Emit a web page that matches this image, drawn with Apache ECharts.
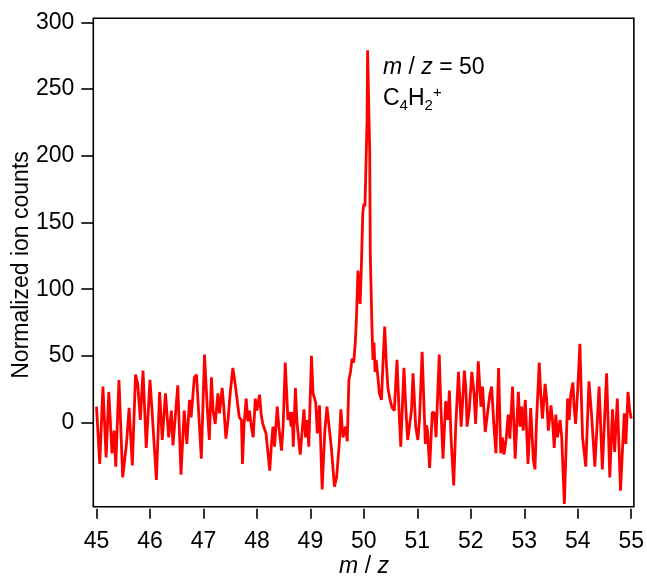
<!DOCTYPE html>
<html>
<head>
<meta charset="utf-8">
<script src="https://cdn.jsdelivr.net/npm/echarts@6/dist/echarts.min.js"></script>
<style>
html,body{margin:0;padding:0;background:#fff;}
#chart{width:647px;height:578px;}
</style>
</head>
<body>
<div id="chart"></div>
<script>
// m/z positions
const mz = [
45.00,45.06,45.12,45.18,45.23,45.29,45.33,45.36,45.42,45.49,
45.56,45.61,45.67,45.73,45.77,45.82,45.87,45.93,46.00,46.04,
46.12,46.18,46.23,46.29,46.35,46.40,46.43,46.52,46.58,46.64,
46.69,46.74,46.77,46.83,46.87,46.96,
47.02,47.07,47.11,47.15,47.18,47.22,47.27,47.30,47.35,47.38,
47.42,47.46,47.50,47.55,47.58,47.63,47.67,47.71,47.73,47.76,
47.80,47.83,47.86,47.90,47.93,47.97,48.00,48.05,48.08,48.11,
48.14,48.17,48.24,
48.27,48.30,48.33,48.38,48.41,48.46,48.49,48.53,48.58,48.61,
48.64,48.66,48.68,48.72,48.75,48.81,48.88,48.91,48.94,48.97,
49.02,49.05,49.10,49.13,49.17,49.22,49.27,49.31,49.39,49.45,
49.49,49.54,49.57,49.61,49.66,49.69,49.72,49.75,49.78,49.81,
49.84,49.86,49.89,49.91,49.93,49.95,49.98,50.00,50.02,50.03,
50.06,50.07,50.09,50.11,50.12,50.15,50.17,50.19,50.21,50.23,
50.26,50.29,50.33,50.36,50.39,50.42,50.45,50.49,50.53,50.57,
50.62,50.66,50.69,50.75,50.79,50.82,50.89,50.92,50.97,51.01,
51.04,51.09,51.15,51.17,51.19,51.23,51.28,51.32,51.35,51.41,
51.44,51.48,51.53,51.57,51.60,51.63,51.68,51.72,51.77,51.82,
51.88,51.91,51.93,51.97,52.02,52.06,52.09,52.14,52.19,52.22,
52.27,52.31,52.36,52.39,52.43,52.47,52.52,52.56,52.59,52.62,
52.66,52.70,52.73,52.78,52.83,52.89,52.92,52.95,52.98,53.02,
53.07,
53.12,53.17,53.20,53.23,53.28,53.31,53.34,53.39,53.42,53.45,
53.50,53.53,53.56,53.59,53.62,53.67,53.70,53.75,53.81,53.84,
53.87,53.91,53.93,53.96,54.00,54.04,54.09,54.15,54.21,54.26,
54.32,54.40,54.46,54.54,54.60,54.65,54.69,54.74,54.80,54.87,
54.90,54.94,54.97,55.00
];
// normalized ion counts (same order as mz)
const counts = [
12,-31,27,-26,23,-23,-6,-33,32,-41,
-16,11,-32,36,29,2,39,-19,32,8,
-43,23,-13,22,-11,9,-17,28,-39,9,
-16,17,4,34,36,-27,
51,12,-13,34,9,-1,22,7,26,12,
-12,2,22,41,33,17,4,2,-31,-1,
18,1,9,-4,-11,18,9,21,6,-1,
0,-8,-36,
-17,-3,-18,12,-3,-21,-3,45,2,8,
-3,8,-18,26,0,-24,10,-11,2,-18,
50,22,15,-8,13,-50,-6,12,-18,-48,
-41,-16,10,-11,-3,-14,32,38,48,45,
60,77,114,102,89,112,157,164,162,177,
227,279,279,202,127,74,47,60,38,47,
35,22,17,47,72,45,26,17,11,9,
47,7,-18,41,7,-13,9,37,-3,-13,
2,53,-16,-2,-6,-34,8,7,-11,51,
12,-27,16,2,24,-11,-47,-1,38,-3,
39,24,-3,9,38,22,-1,46,12,27,
-7,6,22,27,-1,-23,41,-23,-11,-24,
-13,6,-12,27,-27,23,-3,12,-6,17,
-31,
11,-28,-35,2,45,20,3,29,17,-6,
13,1,-19,6,-11,2,-11,-61,18,2,
21,30,13,-1,25,59,-11,-33,31,5,
-33,27,-35,37,-41,10,-22,18,-51,7,
-16,23,10,3
];
const xTicks = [45,46,47,48,49,50,51,52,53,54,55];
const yTicks = [0,50,100,150,200,250,300];

const FONT = 'Liberation Sans, Arial, Helvetica, sans-serif';
const data = mz.map((x, i) => [x, counts[i]]);

const chart = echarts.init(document.getElementById('chart'));
chart.setOption({
  animation: false,
  backgroundColor: '#fff',
  grid: {
    left: 93.3, right: 12.3, top: 18.3, bottom: 71.3,
    show: true, borderColor: '#000', borderWidth: 1.6, backgroundColor: 'transparent'
  },
  xAxis: {
    type: 'value', min: 44.94, max: 55.05, offset: 2,
    axisLine: { show: false, onZero: false },
    splitLine: { show: false },
    axisTick: { show: true, length: 10, inside: false, customValues: xTicks,
      lineStyle: { color: '#000', width: 1.6 } },
    axisLabel: { customValues: xTicks, fontSize: 23, color: '#000', fontFamily: FONT, margin: 21 }
  },
  yAxis: {
    type: 'value', min: -63, max: 303,
    axisLine: { show: false, onZero: false },
    splitLine: { show: false },
    axisTick: { show: true, length: 12, inside: false, customValues: yTicks,
      lineStyle: { color: '#000', width: 1.6 } },
    axisLabel: { customValues: yTicks, fontSize: 23, color: '#000', fontFamily: FONT, margin: 19 }
  },
  series: [{
    type: 'line', data: data, showSymbol: false, clip: true,
    lineStyle: { color: '#ff0000', width: 2.8 }
  }],
  graphic: [
    { type: 'text', left: 383, top: 56,
      style: { text: '{i|m} / {i|z} = 50', font: '23px ' + FONT, fill: '#000',
        rich: { i: { fontStyle: 'italic', fontSize: 23, fontFamily: FONT, fill: '#000' } } } },
    { type: 'text', left: 383, top: 85,
      style: { text: '{n|C}{sub|4}{n|H}{sub|2}{sup|+}', fill: '#000',
        rich: {
          n: { fontSize: 23, fontFamily: FONT, lineHeight: 28, fill: '#000' },
          sub: { fontSize: 15, fontFamily: FONT, lineHeight: 10, verticalAlign: 'bottom', fill: '#000' },
          sup: { fontSize: 15, fontFamily: FONT, lineHeight: 16, verticalAlign: 'top', fill: '#000' }
        } } },
    { type: 'text', x: 364, y: 567,
      style: { text: '{i|m} / {i|z}', font: '23px ' + FONT, fill: '#000', align: 'center', verticalAlign: 'middle',
        rich: { i: { fontStyle: 'italic', fontSize: 23, fontFamily: FONT, fill: '#000' } } } },
    { type: 'text', x: 22, y: 265, rotation: Math.PI / 2,
      style: { text: 'Normalized ion counts', font: '23px ' + FONT, fill: '#000', align: 'center', verticalAlign: 'middle' } }
  ]
});
</script>
</body>
</html>
